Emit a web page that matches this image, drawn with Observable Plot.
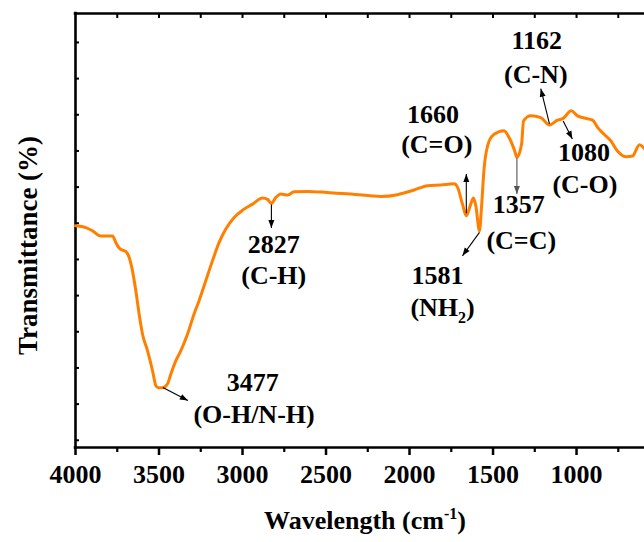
<!DOCTYPE html>
<html>
<head>
<meta charset="utf-8">
<script src="https://cdn.jsdelivr.net/npm/d3@7"></script>
<script src="https://cdn.jsdelivr.net/npm/@observablehq/plot@0.6"></script>
<style>
  body { margin: 0; background: #fff; }
  svg { display: block; }
</style>
</head>
<body>
<div id="chart"></div>
<script>
// FTIR spectrum: wavenumber (cm-1) and relative transmittance
const wavenumber = [4000, 3938, 3898, 3849, 3778, 3759, 3733, 3699, 3679, 3659, 3639, 3619, 3599, 3569, 3539, 3519, 3505, 3477, 3449, 3429, 3399, 3369, 3329, 3290, 3260, 3220, 3180, 3140, 3100, 3050, 3000, 2940, 2880, 2850, 2827, 2801, 2771, 2731, 2691, 2611, 2491, 2351, 2172, 2072, 1972, 1892, 1813, 1733, 1712, 1683, 1660, 1637, 1617, 1603, 1581, 1569, 1553, 1523, 1493, 1434, 1404, 1370, 1357, 1329, 1317, 1274, 1214, 1162, 1114, 1080, 1032, 994, 954, 904, 874, 835, 795, 755, 702, 665, 623, 591];
const transmittance = [59.3, 58.8, 57.9, 56.5, 56.5, 54.7, 52.9, 52.2, 50.6, 46.9, 41.4, 34.9, 29.4, 24.8, 19.3, 15.1, 14.5, 14.5, 15.6, 18.3, 22.0, 24.8, 29.4, 34.9, 38.6, 44.1, 49.6, 54.7, 58.4, 61.6, 63.6, 65.3, 67.0, 66.6, 65.5, 67.1, 68.1, 67.8, 68.7, 68.8, 68.5, 68.1, 67.4, 67.9, 69.2, 70.4, 70.6, 70.9, 69.9, 65.3, 62.1, 64.8, 67.0, 64.8, 57.9, 64.4, 75.4, 82.8, 84.6, 85.6, 83.7, 80.0, 78.2, 81.9, 88.3, 89.7, 89.2, 87.2, 88.5, 89.0, 91.1, 89.7, 89.1, 88.5, 86.5, 84.6, 82.8, 80.0, 78.4, 78.6, 81.7, 80.5];

// Axis ticks
const xTicksMajor = [4000, 3500, 3000, 2500, 2000, 1500, 1000];
const xTicksMinor = [3750, 3250, 2750, 2250, 1750, 1250, 750];
const xTicksTop = [3750, 3500, 3250, 3000, 2750, 2500, 2250, 2000, 1750, 1500, 1250, 1000, 750];
const yTicks = [0, 10, 20, 30, 40, 50, 60, 70, 80, 90, 100, 110];

// Band assignments
const peakLabels = ["3477", "2827", "1660", "1581", "1357", "1162", "1080"];
const bondLabels = ["(O-H/N-H)", "(C-H)", "(C=O)", "(NH2)", "(C=C)", "(C-N)", "(C-O)"];
const peakLabelX = [2938, 2813, 1860, 1832, 1346, 1238, 956];
const peakLabelY = [13.5, 51.9, 87.8, 43.2, 62.9, 108.2, 77.3];
const bondLabelX = [2931, 2813, 1837, 1802, 1331, 1244, 950];
const bondLabelY = [4.9, 43.3, 79.5, 34.4, 53.0, 98.8, 68.4];

// Pointer arrows from each band to its label
const arrowX1 = [3477, 2827, 1660, 1581, 1357, 1162, 1080];
const arrowY1 = [14.6, 65.2, 62.8, 57.5, 78.0, 87.5, 88.3];
const arrowX2 = [3327, 2827, 1660, 1683, 1357, 1214, 1025];
const arrowY2 = [11.0, 58.7, 73.6, 51.0, 68.1, 97.2, 83.3];
const arrowColor = ["black", "black", "black", "black", "#555555", "black", "black"];

const xDomain = [4000, 593];
const yDomain = [-2, 118];
const serif = "Liberation Serif";

const idx = (arr) => arr.map((_, i) => i);

const chart = Plot.plot({
  width: 644,
  height: 542,
  marginLeft: 75,
  marginRight: 0,
  marginTop: 13,
  marginBottom: 95,
  style: {fontFamily: serif, fontSize: "26px", fontWeight: "bold", color: "black", background: "white"},
  x: {domain: xDomain},
  y: {domain: yDomain},
  color: {type: "identity"},
  marks: [
    // frame lines
    Plot.ruleY([yDomain[0]], {stroke: "black", strokeWidth: 2.6, strokeLinecap: "square"}),
    Plot.ruleY([yDomain[1]], {stroke: "black", strokeWidth: 2.6, strokeLinecap: "square"}),
    Plot.ruleX([xDomain[0]], {stroke: "black", strokeWidth: 2.6, strokeLinecap: "square"}),
    // ticks
    Plot.axisX({ticks: xTicksMajor, anchor: "bottom", tickSize: 8, tickPadding: 9, strokeWidth: 2.5, tickFormat: (d) => String(d), label: null, fontFamily: serif}),
    Plot.axisX({ticks: xTicksMinor, anchor: "bottom", tickSize: 5, strokeWidth: 2.2, tickFormat: () => "", label: null}),
    Plot.axisX({ticks: xTicksTop, anchor: "top", tickSize: 4, dy: 4, strokeWidth: 2, tickFormat: () => "", label: null}),
    Plot.axisY({ticks: yTicks, anchor: "left", tickSize: 4, dx: 4, strokeWidth: 2, tickFormat: () => "", label: null}),
    // axis titles
    Plot.text(["Wavelength (cm-1)"], {frameAnchor: "bottom", textAnchor: "middle", dx: 5, dy: 81, lineAnchor: "bottom", fontSize: 26, fontFamily: serif}),
    Plot.text(["Transmittance (%)"], {frameAnchor: "left", textAnchor: "middle", lineAnchor: "middle", rotate: -90, dx: -47, dy: 15, fontSize: 27, fontFamily: serif}),
    // spectrum
    Plot.line(wavenumber, {x: wavenumber, y: transmittance, stroke: "#ff8000", strokeWidth: 3, curve: "monotone-x"}),
    // arrows
    Plot.link(idx(arrowX1), {
      x1: (i) => arrowX1[i], y1: (i) => arrowY1[i],
      x2: (i) => arrowX2[i], y2: (i) => arrowY2[i],
      stroke: (i) => arrowColor[i], strokeWidth: 1.1, markerEnd: "arrow"
    }),
    // labels
    Plot.text(peakLabels, {x: peakLabelX, y: peakLabelY, text: peakLabels, lineAnchor: "bottom", fontSize: 26, fontFamily: serif}),
    Plot.text(bondLabels, {x: bondLabelX, y: bondLabelY, text: bondLabels, lineAnchor: "bottom", fontSize: 26, fontFamily: serif})
  ]
});

const svg = d3.select(chart);

// filled arrowheads
svg.selectAll("marker").each(function () {
  const m = d3.select(this);
  const color = m.attr("stroke") || "black";
  m.attr("viewBox", "-9 -4 10 8")
    .attr("markerWidth", 10)
    .attr("markerHeight", 8)
    .attr("markerUnits", "userSpaceOnUse")
    .attr("fill", color)
    .attr("stroke", "none");
  m.selectAll("*").remove();
  m.append("path").attr("d", "M-8,-3L0,0L-8,3Z");
});

// superscript and subscript
svg.selectAll("text").each(function () {
  const t = d3.select(this);
  const s = this.textContent;
  if (s === "Wavelength (cm-1)") {
    t.text("Wavelength (cm");
    t.append("tspan").attr("font-size", 16).attr("dy", -10).text("-1");
    t.append("tspan").attr("dy", 10).text(")");
  } else if (s === "(NH2)") {
    t.text("(NH");
    t.append("tspan").attr("font-size", 16).attr("dy", 7).text("2");
    t.append("tspan").attr("dy", -7).text(")");
  }
});

document.getElementById("chart").appendChild(chart);
</script>
</body>
</html>
